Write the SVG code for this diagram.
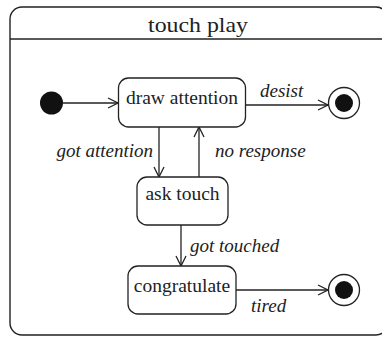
<svg xmlns="http://www.w3.org/2000/svg" width="382" height="337" viewBox="0 0 382 337">
<style>
.frame{fill:#fff;stroke:#222;stroke-width:1.4}
.state{fill:#fff;stroke:#222;stroke-width:1.3}
.name{font-family:"Liberation Serif","Times New Roman",serif;font-size:19.5px;fill:#222;text-anchor:middle}
.lbl{font-family:"Liberation Serif","Times New Roman",serif;font-size:19px;font-style:italic;fill:#222}
.edge{fill:none;stroke:#222;stroke-width:1.3;marker-end:url(#arr)}
.dot{fill:#111}
</style>
<defs>
<marker id="arr" viewBox="0 0 12 12" refX="11" refY="6" markerWidth="12" markerHeight="12" markerUnits="userSpaceOnUse" orient="auto">
<path d="M1,1 L11,6 L1,11" fill="none" stroke="#222" stroke-width="1.3"/>
</marker>
</defs>
<rect width="382" height="337" fill="#fff"/>
<g id="frame">
<rect class="frame" x="10" y="7" width="378" height="328" rx="12"/>
<line x1="10" y1="39" x2="388" y2="39" stroke="#222" stroke-width="1.4"/>
<text class="name" x="198" y="32" style="font-size:21px" textLength="100" lengthAdjust="spacingAndGlyphs">touch play</text>
</g>
<g id="connectors">
<line class="edge" x1="63" y1="103" x2="118" y2="103"/>
<line class="edge" x1="246" y1="105" x2="328" y2="105"/>
<line class="edge" x1="159" y1="127" x2="159" y2="177"/>
<line class="edge" x1="199" y1="177" x2="199" y2="127"/>
<line class="edge" x1="181" y1="225" x2="181" y2="266"/>
<line class="edge" x1="236" y1="290" x2="328" y2="290"/>
<text class="lbl" x="260" y="97">desist</text>
<text class="lbl" x="153" y="157" text-anchor="end">got attention</text>
<text class="lbl" x="215" y="157">no response</text>
<text class="lbl" x="190" y="252">got touched</text>
<text class="lbl" x="251" y="312">tired</text>
</g>
<g id="initial">
<circle class="dot" cx="51.5" cy="103" r="11.5"/>
</g>
<g id="draw-attention">
<rect class="state" x="118.5" y="78" width="127" height="49" rx="10"/>
<text class="name" x="182" y="104">draw attention</text>
</g>
<g id="ask-touch">
<rect class="state" x="137" y="177" width="91" height="48" rx="10"/>
<text class="name" x="182.5" y="200">ask touch</text>
</g>
<g id="congratulate">
<rect class="state" x="128" y="266" width="108" height="48" rx="10"/>
<text class="name" x="182" y="292">congratulate</text>
</g>
<g id="final-1">
<circle cx="344" cy="103" r="15.5" fill="#fff" stroke="#222" stroke-width="1.3"/>
<circle class="dot" cx="344" cy="103" r="9"/>
</g>
<g id="final-2">
<circle cx="344" cy="290" r="15.5" fill="#fff" stroke="#222" stroke-width="1.3"/>
<circle class="dot" cx="344" cy="290" r="9"/>
</g>
</svg>
